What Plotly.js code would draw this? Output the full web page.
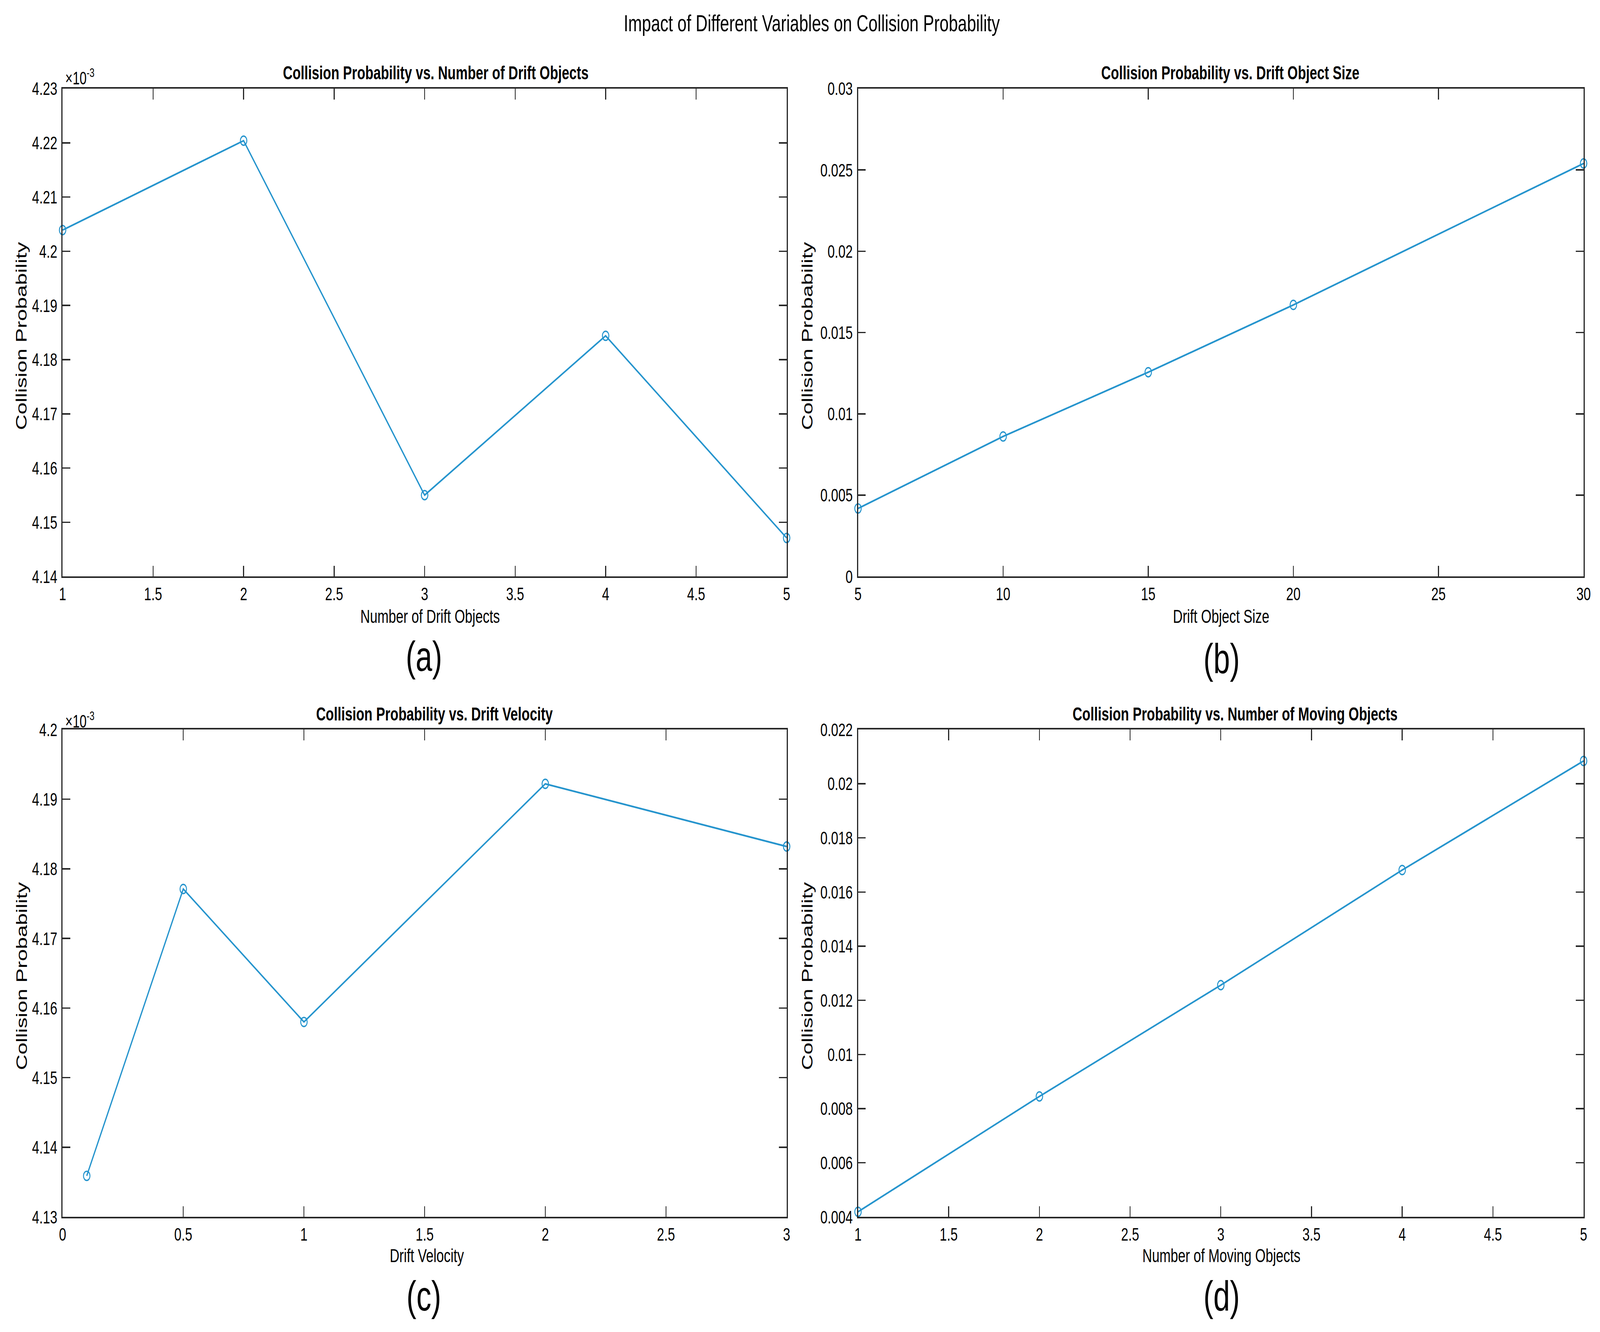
<!DOCTYPE html>
<html>
<head>
<meta charset="utf-8">
<script src="https://cdn.plot.ly/plotly-3.0.1.min.js"></script>
<style>
  html, body { margin: 0; padding: 0; background: #ffffff; overflow: hidden; }
  #wrap { position: absolute; left: 0; top: 0; overflow: hidden; }
  #plot { width: 4192px; transform-origin: 0 0; }
</style>
</head>
<body>
<div id="wrap"><div id="plot"></div></div>
<script>
// ---------------- data ----------------
const mainTitle = "Impact of Different Variables on Collision Probability";
const panelTitles = [
  "Collision Probability vs. Number of Drift Objects",
  "Collision Probability vs. Drift Object Size",
  "Collision Probability vs. Drift Velocity",
  "Collision Probability vs. Number of Moving Objects"
];
const xTitles = ["Number of Drift Objects", "Drift Object Size", "Drift Velocity", "Number of Moving Objects"];
const yTitle = "Collision Probability";
const panelLabels = ["(a)", "(b)", "(c)", "(d)"];
const exponentLabel = "×10<sup>-3</sup>";

const numDriftObjects = [1, 2, 3, 4, 5];
const probVsDriftObjects = [0.0042039, 0.0042204, 0.0041550, 0.0041844, 0.0041471];

const driftObjectSize = [5, 10, 15, 20, 30];
const probVsDriftSize = [0.00418, 0.00861, 0.01256, 0.01670, 0.02540];

const driftVelocity = [0.1, 0.5, 1, 2, 3];
const probVsDriftVelocity = [0.0041359, 0.0041771, 0.0041580, 0.0041922, 0.0041832];

const numMovingObjects = [1, 2, 3, 4, 5];
const probVsMovingObjects = [0.00419, 0.00845, 0.01256, 0.01681, 0.02084];

// tick values and labels
const ticksA_x = [1, 1.5, 2, 2.5, 3, 3.5, 4, 4.5, 5];
const ticksA_y = [0.00414, 0.00415, 0.00416, 0.00417, 0.00418, 0.00419, 0.00420, 0.00421, 0.00422, 0.00423];
const labelsA_y = ["4.14", "4.15", "4.16", "4.17", "4.18", "4.19", "4.2", "4.21", "4.22", "4.23"];

const ticksB_x = [5, 10, 15, 20, 25, 30];
const ticksB_y = [0, 0.005, 0.01, 0.015, 0.02, 0.025, 0.03];
const labelsB_y = ["0", "0.005", "0.01", "0.015", "0.02", "0.025", "0.03"];

const ticksC_x = [0, 0.5, 1, 1.5, 2, 2.5, 3];
const ticksC_y = [0.00413, 0.00414, 0.00415, 0.00416, 0.00417, 0.00418, 0.00419, 0.00420];
const labelsC_y = ["4.13", "4.14", "4.15", "4.16", "4.17", "4.18", "4.19", "4.2"];

const ticksD_x = [1, 1.5, 2, 2.5, 3, 3.5, 4, 4.5, 5];
const ticksD_y = [0.004, 0.006, 0.008, 0.010, 0.012, 0.014, 0.016, 0.018, 0.020, 0.022];
const labelsD_y = ["0.004", "0.006", "0.008", "0.01", "0.012", "0.014", "0.016", "0.018", "0.02", "0.022"];

// ---------------- style ----------------
const REF_W = 4192, REF_H = 3411;
const STRETCH = 1.38;               // reference image is vertically stretched
const W = REF_W, H = Math.round(REF_H / STRETCH);
const FONT = "Liberation Sans, Arial, Helvetica, sans-serif";
const LINE_COLOR = "#2594cd";
const AX_COLOR = "#262626";

// fit the drawing to the actual viewport
const vw = window.innerWidth || REF_W, vh = window.innerHeight || REF_H;
const kx = vw / REF_W, ky = vh / REF_H;
const wrap = document.getElementById("wrap");
wrap.style.width = vw + "px";
wrap.style.height = vh + "px";
const plotDiv = document.getElementById("plot");
plotDiv.style.height = H + "px";
plotDiv.style.transform = "scale(" + kx + "," + (ky * STRETCH) + ")";

function trace(x, y, xa, ya) {
  return {
    type: "scatter", mode: "lines+markers", x: x, y: y, xaxis: xa, yaxis: ya,
    cliponaxis: false, showlegend: false, hoverinfo: "skip",
    line: { color: LINE_COLOR, width: 3.2 },
    marker: { symbol: "circle-open", size: 17, color: LINE_COLOR, line: { color: LINE_COLOR, width: 2.5 } }
  };
}

function axis(domain, range, tickvals, ticktext, anchor, isX) {
  return {
    domain: domain, range: range, anchor: anchor,
    tickmode: "array", tickvals: tickvals, ticktext: ticktext || tickvals.map(String),
    showline: true, mirror: "ticks", linecolor: AX_COLOR, linewidth: 3,
    ticks: "inside", ticklen: 20, tickwidth: 2.5, tickcolor: AX_COLOR,
    showgrid: false, zeroline: false, fixedrange: true,
    ticklabelstandoff: isX ? 0 : 4,
    tickfont: { family: FONT, size: 34, color: "#000000" }
  };
}

const xDomL = [164 / REF_W, 2061 / REF_W];
const xDomR = [2248 / REF_W, 4149 / REF_W];
const yDomT = [1 - 1476 / REF_H, 1 - 227 / REF_H];
const yDomB = [1 - 3116 / REF_H, 1 - 1868 / REF_H];

const data = [
  trace(numDriftObjects, probVsDriftObjects, "x", "y"),
  trace(driftObjectSize, probVsDriftSize, "x2", "y2"),
  trace(driftVelocity, probVsDriftVelocity, "x3", "y3"),
  trace(numMovingObjects, probVsMovingObjects, "x4", "y4")
];

function ann(text, x, y, size, opts) {
  return Object.assign({
    text: text, x: x, y: y, xref: "paper", yref: "paper", showarrow: false,
    xanchor: "center", yanchor: "middle",
    font: { family: FONT, size: size, color: "#000000" }
  }, opts || {});
}

const py = v => 1 - v / REF_H;   // reference pixel row -> paper fraction
const px = v => v / REF_W;

const annotations = [
  ann(mainTitle, px(2127), py(60), 43),
  ann("<b>" + panelTitles[0] + "</b>", px(1141), py(186), 35),
  ann("<b>" + panelTitles[1] + "</b>", px(3223), py(186), 35),
  ann("<b>" + panelTitles[2] + "</b>", px(1138), py(1828), 35),
  ann("<b>" + panelTitles[3] + "</b>", px(3236), py(1828), 35),
  ann(exponentLabel, px(169), py(198), 33, { xanchor: "left" }),
  ann(exponentLabel, px(169), py(1843), 33, { xanchor: "left" }),
  ann(xTitles[0], px(1127), py(1578), 35),
  ann(xTitles[1], px(3199), py(1578), 35),
  ann(xTitles[2], px(1118), py(3214), 35),
  ann(xTitles[3], px(3200), py(3214), 35),
  ann(yTitle, px(56), py(861), 40, { textangle: -90 }),
  ann(yTitle, px(2115), py(861), 40, { textangle: -90 }),
  ann(yTitle, px(56), py(2500), 40, { textangle: -90 }),
  ann(yTitle, px(2115), py(2500), 40, { textangle: -90 }),
  ann(panelLabels[0], px(1110), py(1680), 78),
  ann(panelLabels[1], px(3200), py(1686), 78),
  ann(panelLabels[2], px(1110), py(3318), 78),
  ann(panelLabels[3], px(3200), py(3318), 78)
];

const layout = {
  width: W, height: H,
  margin: { l: 0, r: 0, t: 0, b: 0, pad: 0 },
  paper_bgcolor: "#ffffff", plot_bgcolor: "#ffffff",
  showlegend: false,
  xaxis:  axis(xDomL, [1, 5], ticksA_x, null, "y", true),
  yaxis:  axis(yDomT, [0.00414, 0.00423], ticksA_y, labelsA_y, "x", false),
  xaxis2: axis(xDomR, [5, 30], ticksB_x, null, "y2", true),
  yaxis2: axis(yDomT, [0, 0.03], ticksB_y, labelsB_y, "x2", false),
  xaxis3: axis(xDomL, [0, 3], ticksC_x, null, "y3", true),
  yaxis3: axis(yDomB, [0.00413, 0.0042], ticksC_y, labelsC_y, "x3", false),
  xaxis4: axis(xDomR, [1, 5], ticksD_x, null, "y4", true),
  yaxis4: axis(yDomB, [0.004, 0.022], ticksD_y, labelsD_y, "x4", false),
  annotations: annotations
};

Plotly.newPlot("plot", data, layout, { staticPlot: true, displayModeBar: false });
</script>
</body>
</html>
